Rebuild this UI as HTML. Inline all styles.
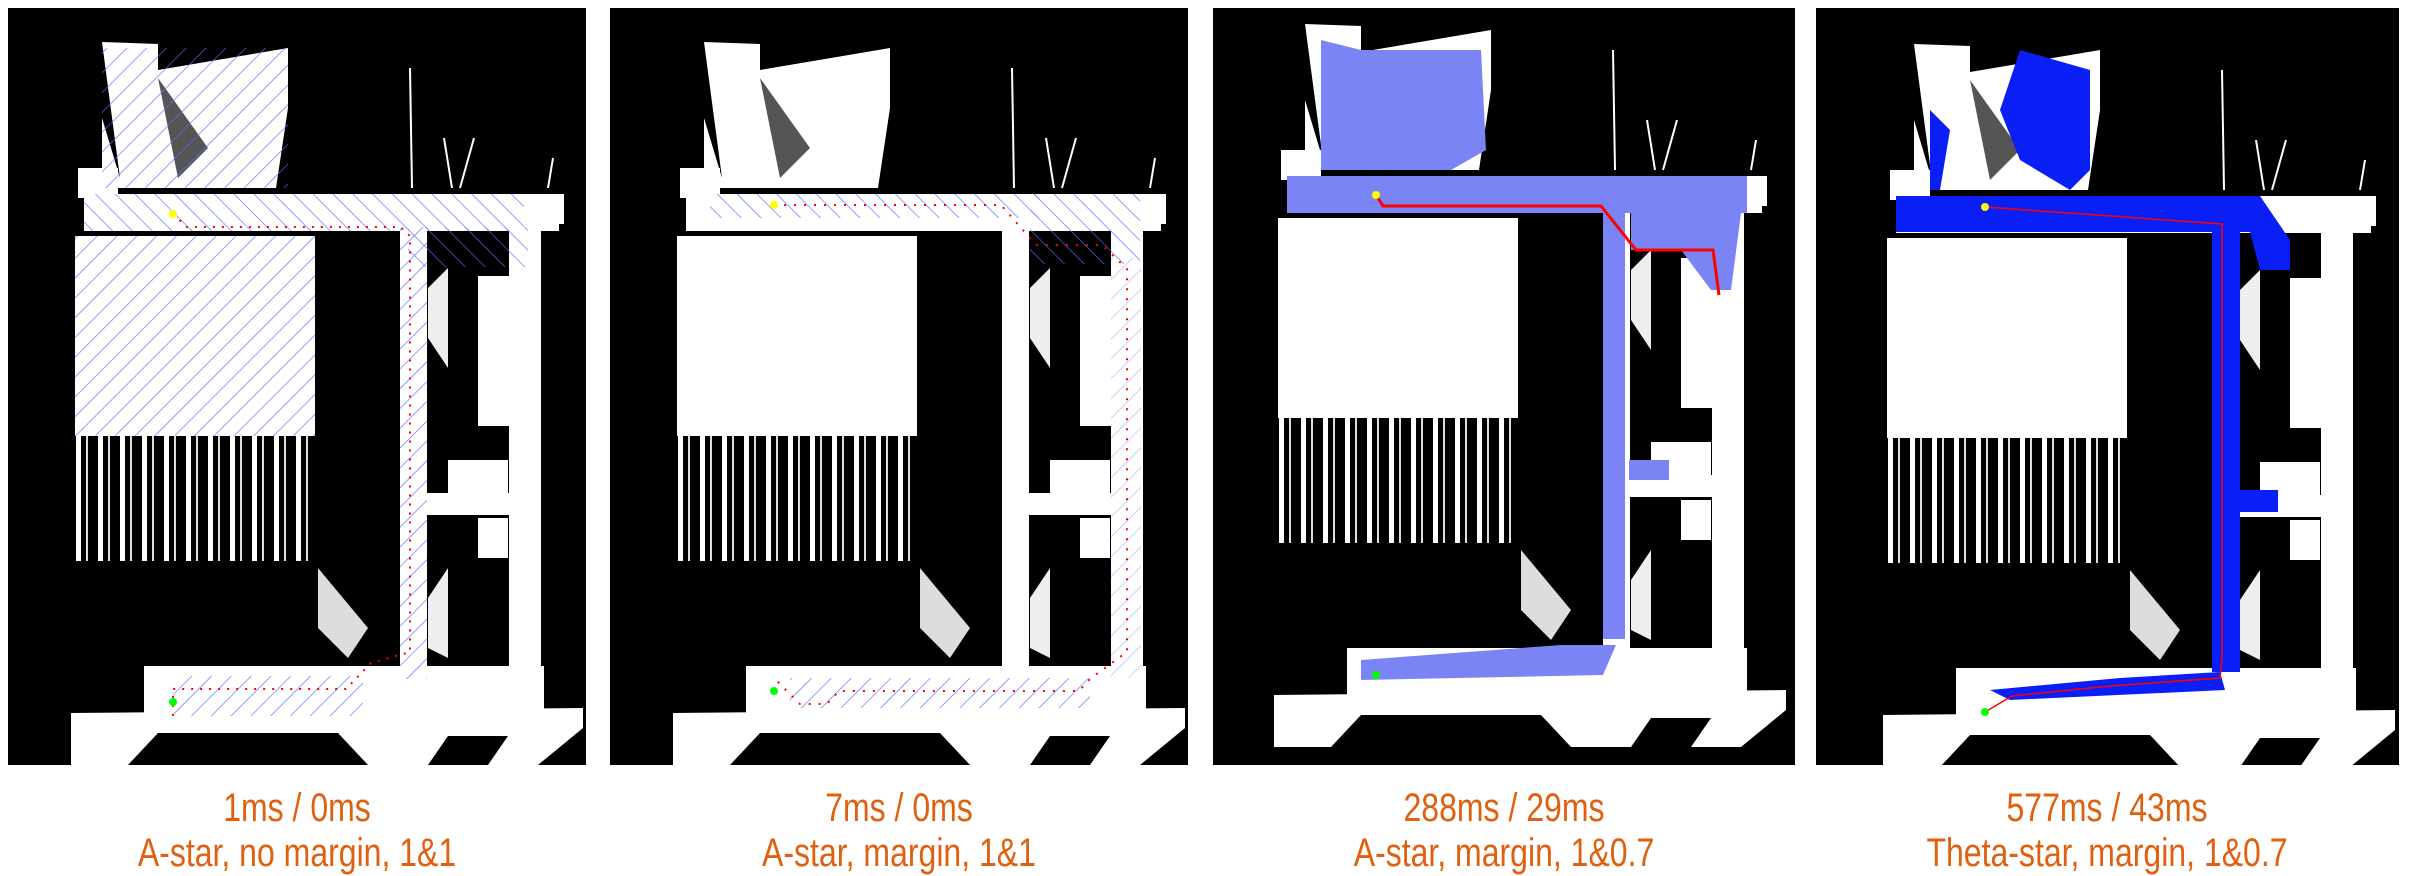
<!DOCTYPE html>
<html><head><meta charset="utf-8"><style>
html,body{margin:0;padding:0;background:#fff;width:2432px;height:876px;overflow:hidden}
svg{position:absolute;left:0;top:0}
.cap{position:absolute;width:600px;text-align:center;font-family:"Liberation Sans",sans-serif;font-size:40px;color:#E0600F;line-height:45px;transform:scaleX(0.8)}
</style></head><body>
<svg width="2432" height="876">
<defs>
<pattern id="hatch" width="14" height="14" patternUnits="userSpaceOnUse" patternTransform="rotate(45)">
<line x1="0" y1="0" x2="0" y2="14" stroke="#5a6cff" stroke-width="1.3"/></pattern>
<pattern id="hatch2" width="14" height="14" patternUnits="userSpaceOnUse" patternTransform="rotate(-45)">
<line x1="0" y1="0" x2="0" y2="14" stroke="#5a6cff" stroke-width="1.3"/></pattern>
<pattern id="rays" width="22" height="10" patternUnits="userSpaceOnUse">
<rect width="22" height="10" fill="#000"/><rect x="2" width="5" height="10" fill="#fff"/><rect x="12" width="2" height="10" fill="#ddd"/></pattern>
<g id="map">
<polygon points="94,34 150,36 150,62 280,40 280,100 268,180 94,180 94,110 112,170" fill="#fff"/>
<polygon points="150,70 200,140 170,170" fill="#555"/>
<rect x="70" y="160" width="40" height="30" fill="#fff"/>
<rect x="76" y="186" width="475" height="37" fill="#fff"/>
<rect x="540" y="186" width="16" height="30" fill="#fff"/>
<rect x="67" y="228" width="240" height="200" fill="#fff"/>
<rect x="67" y="428" width="240" height="125" fill="url(#rays)"/>
<rect x="392" y="219" width="27" height="452" fill="#fff"/>
<rect x="501" y="211" width="32" height="470" fill="#fff"/>
<rect x="419" y="485" width="82" height="22" fill="#fff"/>
<rect x="470" y="268" width="32" height="150" fill="#fff"/>
<rect x="440" y="452" width="60" height="35" fill="#fff"/>
<rect x="470" y="510" width="30" height="40" fill="#fff"/>
<polygon points="420,280 440,260 440,360 420,330" fill="#eee"/>
<polygon points="420,590 440,560 440,650 420,640" fill="#eee"/>
<polygon points="310,560 360,620 340,650 310,620" fill="#ddd"/>
<rect x="136" y="658" width="400" height="70" fill="#fff"/>
<polygon points="63,705 575,700 575,720 530,757 63,757" fill="#fff"/>
<polygon points="120,757 150,725 330,725 360,757" fill="#000"/>
<polygon points="420,757 440,728 500,728 480,757" fill="#000"/>
<line x1="402" y1="60" x2="404" y2="180" stroke="#fff" stroke-width="2"/>
<line x1="436" y1="130" x2="444" y2="180" stroke="#fff" stroke-width="2"/>
<line x1="466" y1="130" x2="452" y2="180" stroke="#fff" stroke-width="2"/>
<line x1="545" y1="150" x2="540" y2="180" stroke="#fff" stroke-width="2"/>
</g>
</defs>

<g transform="translate(8,8)">
<rect width="578" height="757" fill="#000"/>
<use href="#map"/>
<rect x="94" y="40" width="186" height="140" fill="url(#hatch)"/>
<rect x="76" y="186" width="440" height="37" fill="url(#hatch2)"/>
<rect x="67" y="228" width="240" height="200" fill="url(#hatch)"/>
<rect x="392" y="219" width="27" height="452" fill="url(#hatch)"/>
<rect x="400" y="219" width="120" height="40" fill="url(#hatch2)"/>
<rect x="165" y="668" width="190" height="40" fill="url(#hatch)"/>
<polyline points="165,206 179,219 392,219 402,228 402,644 363,655 338,681 165,681 165,708" fill="none" stroke="#f00" stroke-width="2" stroke-dasharray="2,7"/>
<circle cx="165" cy="206" r="4" fill="#ff0"/>
<circle cx="165" cy="694" r="4" fill="#0f0"/>
</g>

<g transform="translate(610,8)">
<rect width="578" height="757" fill="#000"/>
<use href="#map"/>
<rect x="100" y="186" width="330" height="24" fill="url(#hatch2)"/>
<rect x="420" y="186" width="110" height="70" fill="url(#hatch2)"/>
<rect x="501" y="250" width="30" height="420" fill="url(#hatch)" opacity="0.5"/>
<rect x="180" y="670" width="300" height="30" fill="url(#hatch)"/>
<polyline points="164,197 391,197 426,237 492,237 517,261 517,644 481,670 469,683 229,683 217,696 190,696 164,670" fill="none" stroke="#f00" stroke-width="2" stroke-dasharray="2,8"/>
<circle cx="164" cy="197" r="4" fill="#ff0"/>
<circle cx="164" cy="683" r="4" fill="#0f0"/>
</g>

<g transform="translate(1213,8)">
<rect width="582" height="757" fill="#000"/>
<svg x="0" y="0" width="582" height="757" overflow="hidden">
<g transform="translate(-2,-18)"><use href="#map"/>
<g fill="#7b84f5">
<polygon points="110,50 150,60 270,60 275,160 240,180 110,180"/>
<rect x="76" y="186" width="460" height="37"/>
<polygon points="420,223 530,223 520,300 500,300 470,260 420,260"/>
<rect x="392" y="219" width="22" height="430"/>
<rect x="418" y="470" width="40" height="20"/>
<polygon points="150,670 350,655 405,655 392,685 150,690"/>
</g>
<polyline points="165,205 172,216 390,216 425,260 502,260 508,305" fill="none" stroke="#f00" stroke-width="3"/>
<circle cx="165" cy="205" r="4" fill="#ff0"/>
<circle cx="165" cy="685" r="4" fill="#0f0"/>
</g></svg></g>

<g transform="translate(1816,8)">
<rect width="583" height="757" fill="#000"/>
<svg x="0" y="0" width="583" height="757" overflow="hidden">
<g transform="translate(4,2)"><use href="#map"/>
<g fill="#0a1ff5">
<polygon points="110,100 130,120 120,180 110,180"/>
<polygon points="200,40 270,60 270,160 250,180 200,150 180,100"/>
<polygon points="76,186 440,186 470,230 470,260 440,260 430,222 76,222"/>
<rect x="392" y="222" width="28" height="440"/>
<rect x="418" y="480" width="40" height="22"/>
<polygon points="170,680 300,668 400,662 405,680 190,690"/>
</g>
<polyline points="165,197 402,214 402,650 400,668 290,676 192,686 165,702" fill="none" stroke="#f00" stroke-width="1.5"/>
<circle cx="165" cy="197" r="4" fill="#ff0"/>
<circle cx="165" cy="702" r="4" fill="#0f0"/>
</g></svg></g>
</svg>
<div class="cap" style="left:-3px;top:786px">1ms / 0ms<br>A-star, no margin, 1&amp;1</div>
<div class="cap" style="left:599px;top:786px">7ms / 0ms<br>A-star, margin, 1&amp;1</div>
<div class="cap" style="left:1204px;top:786px">288ms / 29ms<br>A-star, margin, 1&amp;0.7</div>
<div class="cap" style="left:1807px;top:786px">577ms / 43ms<br>Theta-star, margin, 1&amp;0.7</div>
</body></html>
